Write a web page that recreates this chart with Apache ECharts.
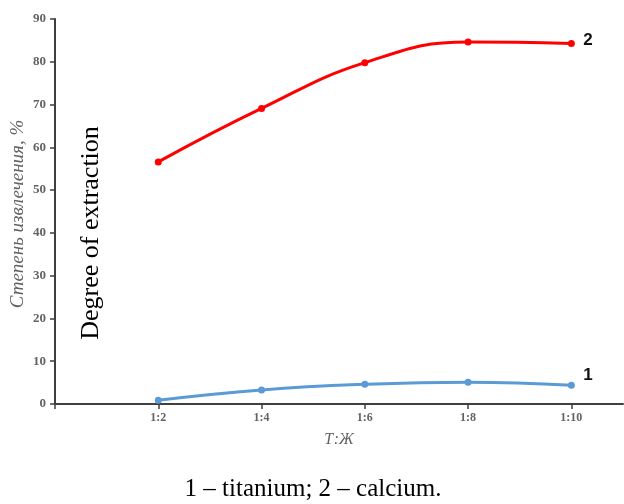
<!DOCTYPE html>
<html>
<head>
<meta charset="utf-8">
<script src="https://cdn.jsdelivr.net/npm/echarts@6/dist/echarts.min.js"></script>
<style>
  html, body { margin: 0; padding: 0; background: #fff; }
  #chart { width: 624px; height: 504px; }
</style>
</head>
<body>
<div id="chart"></div>
<script>
// соотношение Т:Ж (1:x)
var ratios = [2, 4, 6, 8, 10]
var titanium = [0.9, 3.3, 4.6, 5.1, 4.4]   // кривая 1
var calcium = [56.6, 69.1, 79.8, 84.6, 84.3] // кривая 2
var yTicks = [0, 10, 20, 30, 40, 50, 60, 70, 80, 90]

function pairs(ys) {
  return ratios.map(function (r, i) { return [r, ys[i]] })
}

var serif = '"Liberation Serif", "Times New Roman", serif'
var tickColor = '#636363'
var axisColor = '#3f3f3f'

var chart = echarts.init(document.getElementById('chart'))
chart.setOption({
  animation: false,
  grid: { left: 55, right: 1, top: 19, bottom: 100, outerBoundsMode: 'none', containLabel: false },
  xAxis: {
    type: 'value',
    min: 0,
    max: 11,
    interval: 2,
    name: 'Т:Ж',
    nameLocation: 'middle',
    nameGap: 28,
    nameTextStyle: { fontFamily: serif, fontStyle: 'italic', fontSize: 16, color: tickColor },
    axisLine: { lineStyle: { color: axisColor, width: 2 } },
    axisTick: { length: 5, lineStyle: { color: axisColor, width: 1.5 } },
    splitLine: { show: false },
    axisLabel: {
      fontFamily: serif, fontWeight: 'bold', fontSize: 12, color: tickColor, margin: 8,
      showMaxLabel: false,
      formatter: function (v) { return v === 0 ? '' : '1:' + v }
    }
  },
  yAxis: {
    type: 'value',
    min: yTicks[0],
    max: yTicks[yTicks.length - 1],
    interval: 10,
    axisLine: { show: true, lineStyle: { color: axisColor, width: 2 } },
    axisTick: { show: true, length: 5, lineStyle: { color: axisColor, width: 1.5 } },
    splitLine: { show: false },
    axisLabel: { fontFamily: serif, fontWeight: 'bold', fontSize: 13, color: tickColor, margin: 9 }
  },
  series: [
    {
      type: 'line',
      data: pairs(calcium),
      smooth: 0.45,
      symbol: 'circle',
      symbolSize: 7,
      lineStyle: { color: '#ff0000', width: 3 },
      itemStyle: { color: '#ff0000' },
      endLabel: {
        show: true, formatter: '2', offset: [4, -3],
        fontFamily: 'Liberation Sans, Arial, sans-serif', fontWeight: 'bold', fontSize: 17, color: '#111'
      }
    },
    {
      type: 'line',
      data: pairs(titanium),
      smooth: 0.45,
      symbol: 'circle',
      symbolSize: 7,
      lineStyle: { color: '#5b9bd5', width: 3 },
      itemStyle: { color: '#5b9bd5' },
      endLabel: {
        show: true, formatter: '1', offset: [4, -10],
        fontFamily: 'Liberation Sans, Arial, sans-serif', fontWeight: 'bold', fontSize: 17, color: '#111'
      }
    }
  ],
  graphic: [
    {
      // подпись оси Y
      type: 'text',
      x: 18, y: 214,
      rotation: Math.PI / 2,
      style: {
        text: 'Степень извлечения, %',
        font: 'italic 19px "Liberation Serif", "Times New Roman", serif',
        fill: tickColor,
        align: 'center',
        verticalAlign: 'middle'
      }
    },
    {
      type: 'text',
      x: 91, y: 233,
      rotation: Math.PI / 2,
      style: {
        text: 'Degree of extraction',
        font: '26px "Liberation Serif", "Times New Roman", serif',
        fill: '#000',
        align: 'center',
        verticalAlign: 'middle'
      }
    },
    {
      type: 'text',
      x: 313, y: 489,
      style: {
        text: '1 – titanium; 2 – calcium.',
        font: '25px "Liberation Serif", "Times New Roman", serif',
        fill: '#000',
        align: 'center',
        verticalAlign: 'middle'
      }
    }
  ]
})
</script>
</body>
</html>
